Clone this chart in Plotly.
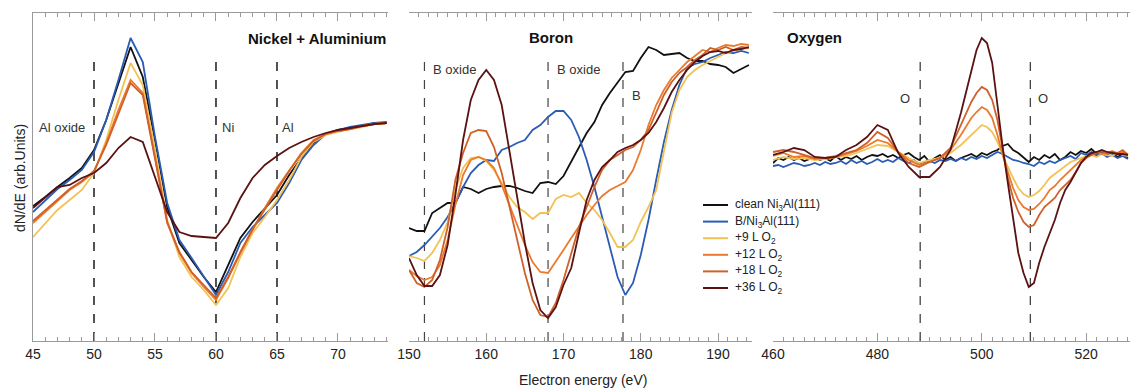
import plotly.graph_objects as go

# ---------------- data (arb. units) ----------------
series_names = ["clean Ni<sub>3</sub>Al(111)", "B/Ni<sub>3</sub>Al(111)", "+9 L O<sub>2</sub>",
                "+12 L O<sub>2</sub>", "+18 L O<sub>2</sub>", "+36 L O<sub>2</sub>"]
series_colors = ["#111111", "#2a5cb4", "#f2c255", "#eb7a2e", "#d0602a", "#5a1212"]

# Nickel + Aluminium panel
ni_x = list(range(45, 75))
ni_clean = [135, 144, 154, 163, 173, 191, 221, 258, 294, 264, 201, 134, 98, 81, 64, 49, 76, 103, 119, 133, 146, 166, 183, 198, 207, 211, 213, 215, 218, 218]
ni_b = [129, 141, 152, 161, 171, 189, 221, 261, 303, 279, 204, 138, 101, 83, 64, 46, 69, 98, 114, 126, 138, 158, 181, 196, 207, 211, 214, 216, 218, 219]
ni_9 = [104, 118, 131, 141, 151, 168, 201, 241, 278, 256, 191, 121, 84, 64, 51, 36, 53, 84, 108, 124, 141, 161, 184, 199, 206, 209, 212, 214, 217, 218]
ni_12 = [118, 129, 141, 151, 159, 169, 198, 231, 261, 248, 184, 118, 88, 68, 54, 41, 63, 88, 111, 133, 153, 171, 188, 201, 207, 210, 212, 215, 217, 218]
ni_18 = [120, 131, 142, 152, 160, 170, 196, 228, 258, 246, 183, 119, 89, 69, 56, 43, 64, 89, 112, 132, 151, 170, 187, 200, 207, 210, 212, 215, 217, 218]
ni_36 = [133, 144, 154, 156, 163, 168, 178, 193, 204, 199, 164, 129, 109, 105, 104, 103, 118, 143, 163, 176, 185, 193, 199, 204, 208, 211, 213, 215, 217, 218]

# Boron panel
b_x = list(range(150, 195))
b_clean = [113, 110, 110, 128, 133, 138, 138, 154, 152, 148, 152, 154, 155, 155, 153, 150, 148, 158, 159, 157, 165, 179, 194, 208, 219, 236, 248, 258, 269, 270, 283, 294, 291, 286, 287, 288, 283, 280, 280, 277, 276, 274, 268, 272, 276]
b_b = [85, 89, 96, 104, 113, 124, 138, 154, 168, 176, 181, 180, 191, 194, 198, 201, 211, 216, 224, 230, 230, 221, 204, 181, 154, 124, 94, 64, 46, 58, 86, 121, 161, 199, 231, 256, 273, 277, 279, 283, 286, 289, 288, 290, 288]
b_9 = [85, 83, 80, 88, 101, 119, 151, 173, 183, 184, 180, 171, 158, 144, 134, 129, 122, 128, 128, 142, 146, 144, 148, 138, 131, 121, 108, 94, 94, 101, 119, 134, 151, 191, 228, 251, 264, 271, 276, 280, 284, 288, 290, 292, 293]
b_12 = [71, 65, 61, 64, 76, 101, 136, 166, 181, 184, 181, 173, 156, 136, 116, 96, 79, 69, 68, 79, 91, 103, 115, 126, 136, 145, 151, 155, 159, 171, 191, 216, 236, 251, 263, 271, 279, 285, 291, 289, 293, 296, 295, 297, 296]
b_18 = [71, 58, 54, 61, 81, 114, 161, 188, 208, 211, 210, 194, 168, 134, 101, 68, 41, 26, 24, 38, 61, 88, 114, 134, 154, 171, 181, 186, 191, 194, 201, 211, 228, 246, 259, 268, 274, 281, 286, 293, 291, 294, 291, 294, 293]
b_36 = [83, 66, 55, 55, 66, 96, 146, 201, 241, 261, 271, 261, 236, 191, 144, 98, 58, 31, 23, 34, 56, 73, 108, 141, 161, 174, 181, 189, 193, 196, 201, 208, 219, 233, 249, 261, 271, 279, 285, 289, 290, 288, 291, 292, 294]

# Oxygen panel
o_x_fine = list(range(460, 529))
o_x = list(range(460, 499, 2)) + list(range(499, 529))
o_clean = [178, 183, 181, 184, 181, 183, 180, 182, 184, 181, 183, 180, 185, 181, 184, 182, 185, 181, 184, 186,
           185, 187, 184, 186, 183, 186, 188, 184, 181, 185, 179, 183, 186, 181, 184, 180, 183, 185, 187, 184,
           188, 186, 189, 191, 195, 197, 191, 188, 183, 179, 184, 181, 186, 183, 187, 181, 184, 189, 186, 190,
           188, 192, 187, 190, 186, 189, 184, 187, 183]
o_b = [175, 176, 174, 176, 178, 177, 175, 176, 178, 176, 179, 177, 178, 180, 177, 181, 178, 180, 177, 179,
       182, 179, 181, 179, 183, 180, 178, 181, 177, 179, 180, 178, 181, 180, 182, 180, 183, 181, 184, 182,
       185, 183, 186, 189, 187, 184, 181, 180, 178, 177, 175, 179, 177, 180, 178, 181, 183, 185, 182, 188,
       186, 189, 185, 188, 184, 186, 183, 185, 182]
o_9 = [181, 184, 182, 183, 181, 182, 184, 185, 188, 192, 196, 195, 189, 183, 178, 181, 183, 188, 196, 206,
       211, 216, 214, 209, 199, 186, 174, 163, 153, 147, 144, 146, 150, 156, 163, 167, 171, 175, 179, 181,
       183, 185, 186, 184, 187, 186, 185, 188, 186, 185]
o_12 = [185, 188, 184, 185, 182, 183, 185, 187, 190, 195, 201, 198, 189, 181, 176, 179, 183, 191, 206, 223,
        229, 234, 231, 223, 206, 186, 169, 153, 141, 134, 131, 132, 137, 143, 151, 155, 161, 166, 171, 175,
        181, 184, 186, 189, 187, 188, 190, 187, 189, 187]
o_18 = [189, 191, 189, 186, 183, 183, 184, 188, 191, 198, 209, 203, 189, 178, 174, 179, 183, 193, 216, 239,
        248, 254, 251, 241, 221, 191, 163, 143, 129, 119, 114, 116, 126, 134, 139, 143, 151, 156, 161, 169,
        178, 183, 186, 188, 190, 187, 189, 188, 191, 186]
o_36 = [186, 189, 193, 191, 184, 183, 184, 191, 196, 204, 216, 211, 188, 174, 164, 164, 174, 191, 228, 271,
        291, 303, 298, 278, 234, 194, 158, 121, 88, 68, 54, 58, 78, 94, 108, 121, 138, 151, 159, 168,
        178, 184, 188, 189, 191, 189, 188, 187, 187, 186]

# reference lines (eV) and labels
ni_lines = [50, 60, 65]
b_lines = [152, 168, 177.7]
o_lines = [488.2, 509.3]
panel_titles = ["Nickel + Aluminium", "Boron", "Oxygen"]
x_title = "Electron energy (eV)"
y_title = "dN/dE (arb.Units)"

W, H = 1130, 390
TOP, BOT = 13, 341           # plot-area pixel rows
FONT = "Arial, Liberation Sans, sans-serif"

fig = go.Figure()

panels = [
    ("x", "y", [ni_x] * 6, [ni_clean, ni_b, ni_9, ni_12, ni_18, ni_36]),
    ("x2", "y2", [b_x] * 6, [b_clean, b_b, b_9, b_12, b_18, b_36]),
    ("x3", "y3", [o_x_fine, o_x_fine, o_x, o_x, o_x, o_x], [o_clean, o_b, o_9, o_12, o_18, o_36]),
]
for p, (xa, ya, xs, ys) in enumerate(panels):
    for i in range(6):
        fig.add_trace(go.Scatter(
            x=xs[i], y=ys[i], xaxis=xa, yaxis=ya, mode="lines",
            line=dict(color=series_colors[i], width=1.8),
            name=series_names[i], showlegend=False,
        ))

# dashed reference lines
for xa, ya, lines, col, wd in [("x", "y", ni_lines, "#1a1a1a", 1.5),
                               ("x2", "y2", b_lines, "#444444", 1.2),
                               ("x3", "y3", o_lines, "#333333", 1.2)]:
    for v in lines:
        fig.add_shape(type="line", xref=xa, yref=ya, x0=v, x1=v, y0=0, y1=286,
                      line=dict(color=col, width=wd, dash="dash"), layer="below")


def px2dom(a, b):
    return [a / W, b / W]


def py2paper(py):
    return (BOT - py) / (BOT - TOP)


axis_common = dict(showgrid=False, zeroline=False, showline=True, linecolor="#9a9a9a", linewidth=1,
                   mirror="ticks", ticks="inside", ticklen=8, tickcolor="#9a9a9a", tickwidth=1,
                   automargin=False,
                   tickfont=dict(family=FONT, size=14, color="#222222"))
minor_common = dict(ticklen=4, ticks="inside", tickcolor="#9a9a9a")

fig.update_layout(
    width=W, height=H, margin=dict(l=0, r=0, t=TOP, b=H - BOT, autoexpand=False),
    paper_bgcolor="white", plot_bgcolor="white",
    font=dict(family=FONT, color="#222222"),
    xaxis=dict(domain=px2dom(33, 388), range=[45, 74.1], tickvals=[45, 50, 55, 60, 65, 70],
               minor=dict(dtick=1, tick0=45, **minor_common), anchor="y", **axis_common),
    xaxis2=dict(domain=px2dom(409, 752), range=[150, 194.4], tickvals=[150, 160, 170, 180, 190],
                minor=dict(dtick=1.25, tick0=150, **minor_common), anchor="y2", **axis_common),
    xaxis3=dict(domain=px2dom(773, 1130), range=[460, 528.4], tickvals=[460, 480, 500, 520],
                minor=dict(dtick=2, tick0=460, **minor_common), anchor="y3", **axis_common),
    yaxis=dict(range=[0, 328], showticklabels=False, showgrid=False, zeroline=False, automargin=False,
               showline=True, linecolor="#9a9a9a", linewidth=1, ticks="", anchor="x"),
    yaxis2=dict(range=[0, 328], visible=False, anchor="x2", automargin=False),
    yaxis3=dict(range=[0, 328], visible=False, anchor="x3", automargin=False),
    showlegend=False,
)

ann = []
lab_font = dict(family=FONT, size=13, color="#333333")
title_font = dict(family=FONT, size=15, color="#111111")
ann.append(dict(xref="x", yref="y", x=74.1, y=303, text="<b>" + panel_titles[0] + "</b>", showarrow=False,
                xanchor="right", yanchor="middle", font=title_font))
ann.append(dict(xref="x2", yref="y2", x=168.4, y=304, text="<b>" + panel_titles[1] + "</b>", showarrow=False,
                xanchor="center", yanchor="middle", font=title_font))
ann.append(dict(xref="x3", yref="y3", x=462.3, y=304, text="<b>" + panel_titles[2] + "</b>", showarrow=False,
                xanchor="left", yanchor="middle", font=title_font))
for xa, ya, x, y, t, anc in [("x", "y", 47.35, 214, "Al oxide", "center"),
                             ("x", "y", 60.33, 214, "Ni", "left"),
                             ("x", "y", 65.25, 214, "Al", "left"),
                             ("x2", "y2", 152.9, 272, "B oxide", "left"),
                             ("x2", "y2", 168.9, 272, "B oxide", "left"),
                             ("x2", "y2", 178.6, 246, "B", "left"),
                             ("x3", "y3", 485.3, 243, "O", "center"),
                             ("x3", "y3", 511.8, 243, "O", "center")]:
    ann.append(dict(xref=xa, yref=ya, x=x, y=y, text=t, showarrow=False, xanchor=anc, yanchor="middle",
                    font=lab_font))
ann.append(dict(xref="paper", yref="paper", x=583 / W, y=py2paper(380), text=x_title, showarrow=False,
                xanchor="center", yanchor="middle", font=dict(family=FONT, size=14, color="#222222")))
ann.append(dict(xref="paper", yref="paper", x=20 / W, y=py2paper(178), text=y_title, showarrow=False,
                textangle=-90, xanchor="center", yanchor="middle", font=dict(family=FONT, size=14, color="#222222")))

# legend (drawn as line samples + labels, compact row spacing as in the reference)
LEG_X0, LEG_X1, LEG_TX, LEG_Y0, LEG_DY = 703, 728, 733, 205, 16.6
for i, (nm, col) in enumerate(zip(series_names, series_colors)):
    yy = py2paper(LEG_Y0 + i * LEG_DY)
    fig.add_shape(type="line", xref="paper", yref="paper", x0=LEG_X0 / W, x1=LEG_X1 / W, y0=yy, y1=yy,
                  line=dict(color=col, width=2))
    ann.append(dict(xref="paper", yref="paper", x=LEG_TX / W, y=yy, text=nm, showarrow=False,
                    xanchor="left", yanchor="middle", font=dict(family=FONT, size=12, color="#222222")))

fig.update_layout(annotations=ann)

fig.write_html("out.html")
